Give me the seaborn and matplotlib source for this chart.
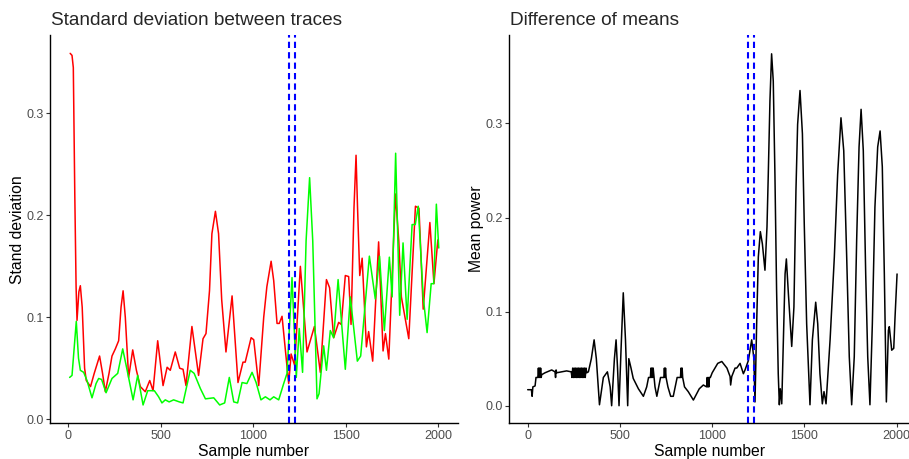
import matplotlib
matplotlib.use("Agg")
import matplotlib.pyplot as plt
import seaborn as sns
import pandas as pd

# ---- data ----
red_x = [10, 20, 27, 35, 42, 47, 57, 65, 75, 88, 97, 120, 140, 169, 185, 200, 220, 236, 254, 272, 285, 296, 308,
         326, 348, 368, 389, 416, 440, 458, 483, 512, 534, 551, 578, 602, 620, 636, 668, 704, 728, 744, 763, 776,
         795, 812, 829, 852, 885, 917, 944, 956, 988, 1002, 1029, 1056, 1073, 1096, 1110, 1128, 1140, 1155, 1191,
         1204, 1223, 1254, 1290, 1330, 1362, 1395, 1412, 1434, 1461, 1475, 1497, 1515, 1528, 1544, 1555, 1563,
         1575, 1588, 1611, 1623, 1645, 1677, 1701, 1714, 1732, 1768, 1786, 1800, 1840, 1876, 1895, 1918, 1954,
         1976, 1997]
red_y = [0.359, 0.357, 0.345, 0.22, 0.13, 0.097, 0.125, 0.131, 0.11, 0.05, 0.038, 0.032, 0.045, 0.062, 0.045,
         0.027, 0.045, 0.062, 0.069, 0.077, 0.11, 0.126, 0.10, 0.041, 0.068, 0.048, 0.032, 0.027, 0.038, 0.028,
         0.077, 0.033, 0.051, 0.048, 0.066, 0.05, 0.049, 0.033, 0.091, 0.043, 0.079, 0.084, 0.126, 0.182, 0.204,
         0.182, 0.117, 0.066, 0.121, 0.036, 0.056, 0.056, 0.080, 0.078, 0.033, 0.10, 0.130, 0.155, 0.136, 0.094,
         0.094, 0.101, 0.035, 0.064, 0.053, 0.15, 0.066, 0.091, 0.046, 0.137, 0.129, 0.080, 0.095, 0.093, 0.141,
         0.14, 0.093, 0.208, 0.259, 0.208, 0.141, 0.158, 0.071, 0.086, 0.057, 0.174, 0.067, 0.084, 0.059, 0.221,
         0.175, 0.120, 0.079, 0.209, 0.207, 0.108, 0.193, 0.133, 0.176]

green_x = [7, 20, 43, 55, 65, 83, 101, 128, 150, 164, 180, 204, 236, 267, 294, 318, 350, 375, 404, 429, 465, 488,
           506, 524, 545, 569, 600, 620, 659, 680, 714, 741, 786, 818, 845, 870, 894, 915, 939, 965, 993, 1015,
           1041, 1065, 1090, 1110, 1137, 1164, 1182, 1209, 1232, 1248, 1266, 1285, 1304, 1321, 1344, 1355, 1380,
           1395, 1416, 1434, 1458, 1497, 1524, 1562, 1580, 1627, 1659, 1682, 1708, 1735, 1750, 1769, 1791, 1809,
           1831, 1858, 1875, 1891, 1918, 1939, 1961, 1975, 1989, 2002]
green_y = [0.041, 0.043, 0.096, 0.06, 0.048, 0.046, 0.038, 0.021, 0.035, 0.040, 0.039, 0.026, 0.040, 0.045, 0.069,
           0.048, 0.019, 0.043, 0.014, 0.028, 0.028, 0.022, 0.016, 0.019, 0.017, 0.019, 0.017, 0.016, 0.048, 0.045,
           0.030, 0.020, 0.021, 0.014, 0.016, 0.041, 0.017, 0.016, 0.036, 0.035, 0.046, 0.036, 0.019, 0.022, 0.019,
           0.022, 0.019, 0.035, 0.045, 0.139, 0.041, 0.089, 0.046, 0.175, 0.237, 0.175, 0.020, 0.025, 0.072, 0.048,
           0.087, 0.080, 0.137, 0.049, 0.120, 0.057, 0.062, 0.160, 0.118, 0.160, 0.087, 0.159, 0.120, 0.261, 0.102,
           0.173, 0.098, 0.191, 0.191, 0.209, 0.120, 0.085, 0.133, 0.133, 0.211, 0.168]

mean_x = [0, 20, 24, 28, 40, 45, 55, 58, 61, 64, 67, 70, 73, 76, 94, 130, 148, 151, 154, 157, 211, 236, 240, 244,
          248, 252, 256, 260, 264, 268, 272, 276, 280, 284, 288, 292, 296, 300, 304, 308, 312, 316, 320, 329, 345,
          360, 372, 389, 410, 432, 447, 455, 470, 479, 487, 495, 506, 518, 530, 542, 548, 554, 560, 572, 600, 627,
          645, 655, 665, 668, 671, 674, 677, 680, 690, 700, 710, 720, 738, 741, 744, 747, 750, 760, 775, 789, 810,
          828, 831, 834, 837, 840, 850, 870, 898, 930, 952, 970, 973, 976, 979, 982, 985, 990, 1000, 1030, 1052,
          1080, 1097, 1100, 1106, 1124, 1133, 1151, 1169, 1178, 1196, 1214, 1226, 1232, 1241, 1250, 1261, 1272,
          1286, 1297, 1304, 1313, 1322, 1331, 1340, 1349, 1358, 1364, 1369, 1377, 1386, 1395, 1402, 1413, 1431,
          1443, 1454, 1463, 1476, 1489, 1499, 1512, 1530, 1543, 1561, 1572, 1584, 1597, 1606, 1617, 1639, 1662,
          1680, 1698, 1713, 1729, 1743, 1756, 1770, 1783, 1796, 1807, 1819, 1832, 1843, 1855, 1868, 1882, 1897,
          1910, 1922, 1933, 1944, 1955, 1960, 1973, 1984, 1991, 2002]
mean_y = [0.017, 0.017, 0.010, 0.020, 0.021, 0.030, 0.030, 0.040, 0.030, 0.040, 0.030, 0.040, 0.030, 0.033, 0.035,
          0.038, 0.036, 0.030, 0.038, 0.035, 0.037, 0.036, 0.030, 0.040, 0.030, 0.040, 0.030, 0.040, 0.030, 0.040,
          0.030, 0.040, 0.030, 0.040, 0.030, 0.040, 0.030, 0.040, 0.030, 0.040, 0.030, 0.040, 0.035, 0.036, 0.050,
          0.070, 0.050, 0.001, 0.030, 0.036, 0.020, 0.000, 0.050, 0.070, 0.040, 0.000, 0.060, 0.120, 0.070, 0.000,
          0.050, 0.045, 0.040, 0.029, 0.018, 0.010, 0.020, 0.030, 0.030, 0.040, 0.030, 0.040, 0.030, 0.040, 0.020,
          0.010, 0.020, 0.030, 0.030, 0.040, 0.030, 0.040, 0.030, 0.020, 0.010, 0.010, 0.030, 0.030, 0.040, 0.030,
          0.040, 0.030, 0.020, 0.015, 0.006, 0.018, 0.022, 0.020, 0.030, 0.020, 0.030, 0.020, 0.030, 0.030, 0.035,
          0.045, 0.047, 0.040, 0.031, 0.022, 0.031, 0.040, 0.040, 0.045, 0.034, 0.038, 0.048, 0.070, 0.050, 0.004,
          0.087, 0.158, 0.185, 0.172, 0.144, 0.190, 0.246, 0.324, 0.374, 0.345, 0.246, 0.123, 0.034, 0.001, 0.018,
          0.002, 0.070, 0.140, 0.156, 0.119, 0.063, 0.105, 0.229, 0.299, 0.335, 0.289, 0.193, 0.087, 0.001, 0.070,
          0.110, 0.087, 0.034, 0.002, 0.015, 0.002, 0.070, 0.158, 0.246, 0.306, 0.271, 0.158, 0.052, 0.001, 0.052,
          0.176, 0.275, 0.315, 0.271, 0.140, 0.052, 0.001, 0.087, 0.211, 0.275, 0.292, 0.254, 0.140, 0.004, 0.080,
          0.084, 0.059, 0.061, 0.094, 0.140]

cut_points = [1192, 1225]
x_ticks = [0, 500, 1000, 1500, 2000]
y_ticks = [0.0, 0.1, 0.2, 0.3]
y_tick_labels = ["0.0", "0.1", "0.2", "0.3"]

# ---- styling ----
sns.set_theme(style="white")
plt.rcParams['font.family'] = ['Liberation Sans', 'DejaVu Sans']

W, H = 909, 459
fig = plt.figure(figsize=(W / 100, H / 100), dpi=100)
bottom = (H - 423.3) / H
height = 388.3 / H
ax1 = fig.add_axes([50 / W, bottom, 408 / W, height])
ax2 = fig.add_axes([509.3 / W, bottom, (W - 509.3) / W, height])

df_sd = pd.concat([
    pd.DataFrame({"x": red_x, "y": red_y, "s": "red"}),
    pd.DataFrame({"x": green_x, "y": green_y, "s": "green"}),
])
sns.lineplot(data=df_sd, x="x", y="y", hue="s", palette={"red": "#FF0000", "green": "#00FF00"},
             estimator=None, sort=False, lw=1.1, legend=False, ax=ax1)
sns.lineplot(x=mean_x, y=mean_y, color="black", estimator=None, sort=False, lw=1.1, ax=ax2)

for ax in (ax1, ax2):
    for c in cut_points:
        ax.axvline(c, color="#0000FF", lw=1.5, ls=(0, (3, 2)))
    for s in ("top", "right"):
        ax.spines[s].set_visible(False)
    for s in ("left", "bottom"):
        ax.spines[s].set_color("black")
        ax.spines[s].set_linewidth(1.0)
    ax.set_xticks(x_ticks)
    ax.set_yticks(y_ticks)
    ax.set_yticklabels(y_tick_labels)
    ax.tick_params(axis="both", which="both", direction="out", length=3, width=0.8, color="#333333",
                   labelcolor="#4D4D4D", labelsize=9, pad=1.5, left=True, bottom=True)
    ax.grid(False)
    ax.set_xlabel("Sample number", fontsize=11.3, color="black", labelpad=2)

ax1.set_xlim(-99, 2106)
ax1.set_ylim(-0.004, 0.377)
ax2.set_xlim(-99.7, 2066.7)
ax2.set_ylim(-0.0187, 0.394)

ax1.set_ylabel("Stand deviation", fontsize=11.3, color="black", labelpad=1)
ax2.set_ylabel("Mean power", fontsize=11.3, color="black", labelpad=1)

fig.text(51 / W, 1 - 25 / H, "Standard deviation between traces", fontsize=13.7, ha="left", va="baseline")
fig.text(510 / W, 1 - 25 / H, "Difference of means", fontsize=13.7, ha="left", va="baseline")

fig.savefig("out.png", dpi=100)
